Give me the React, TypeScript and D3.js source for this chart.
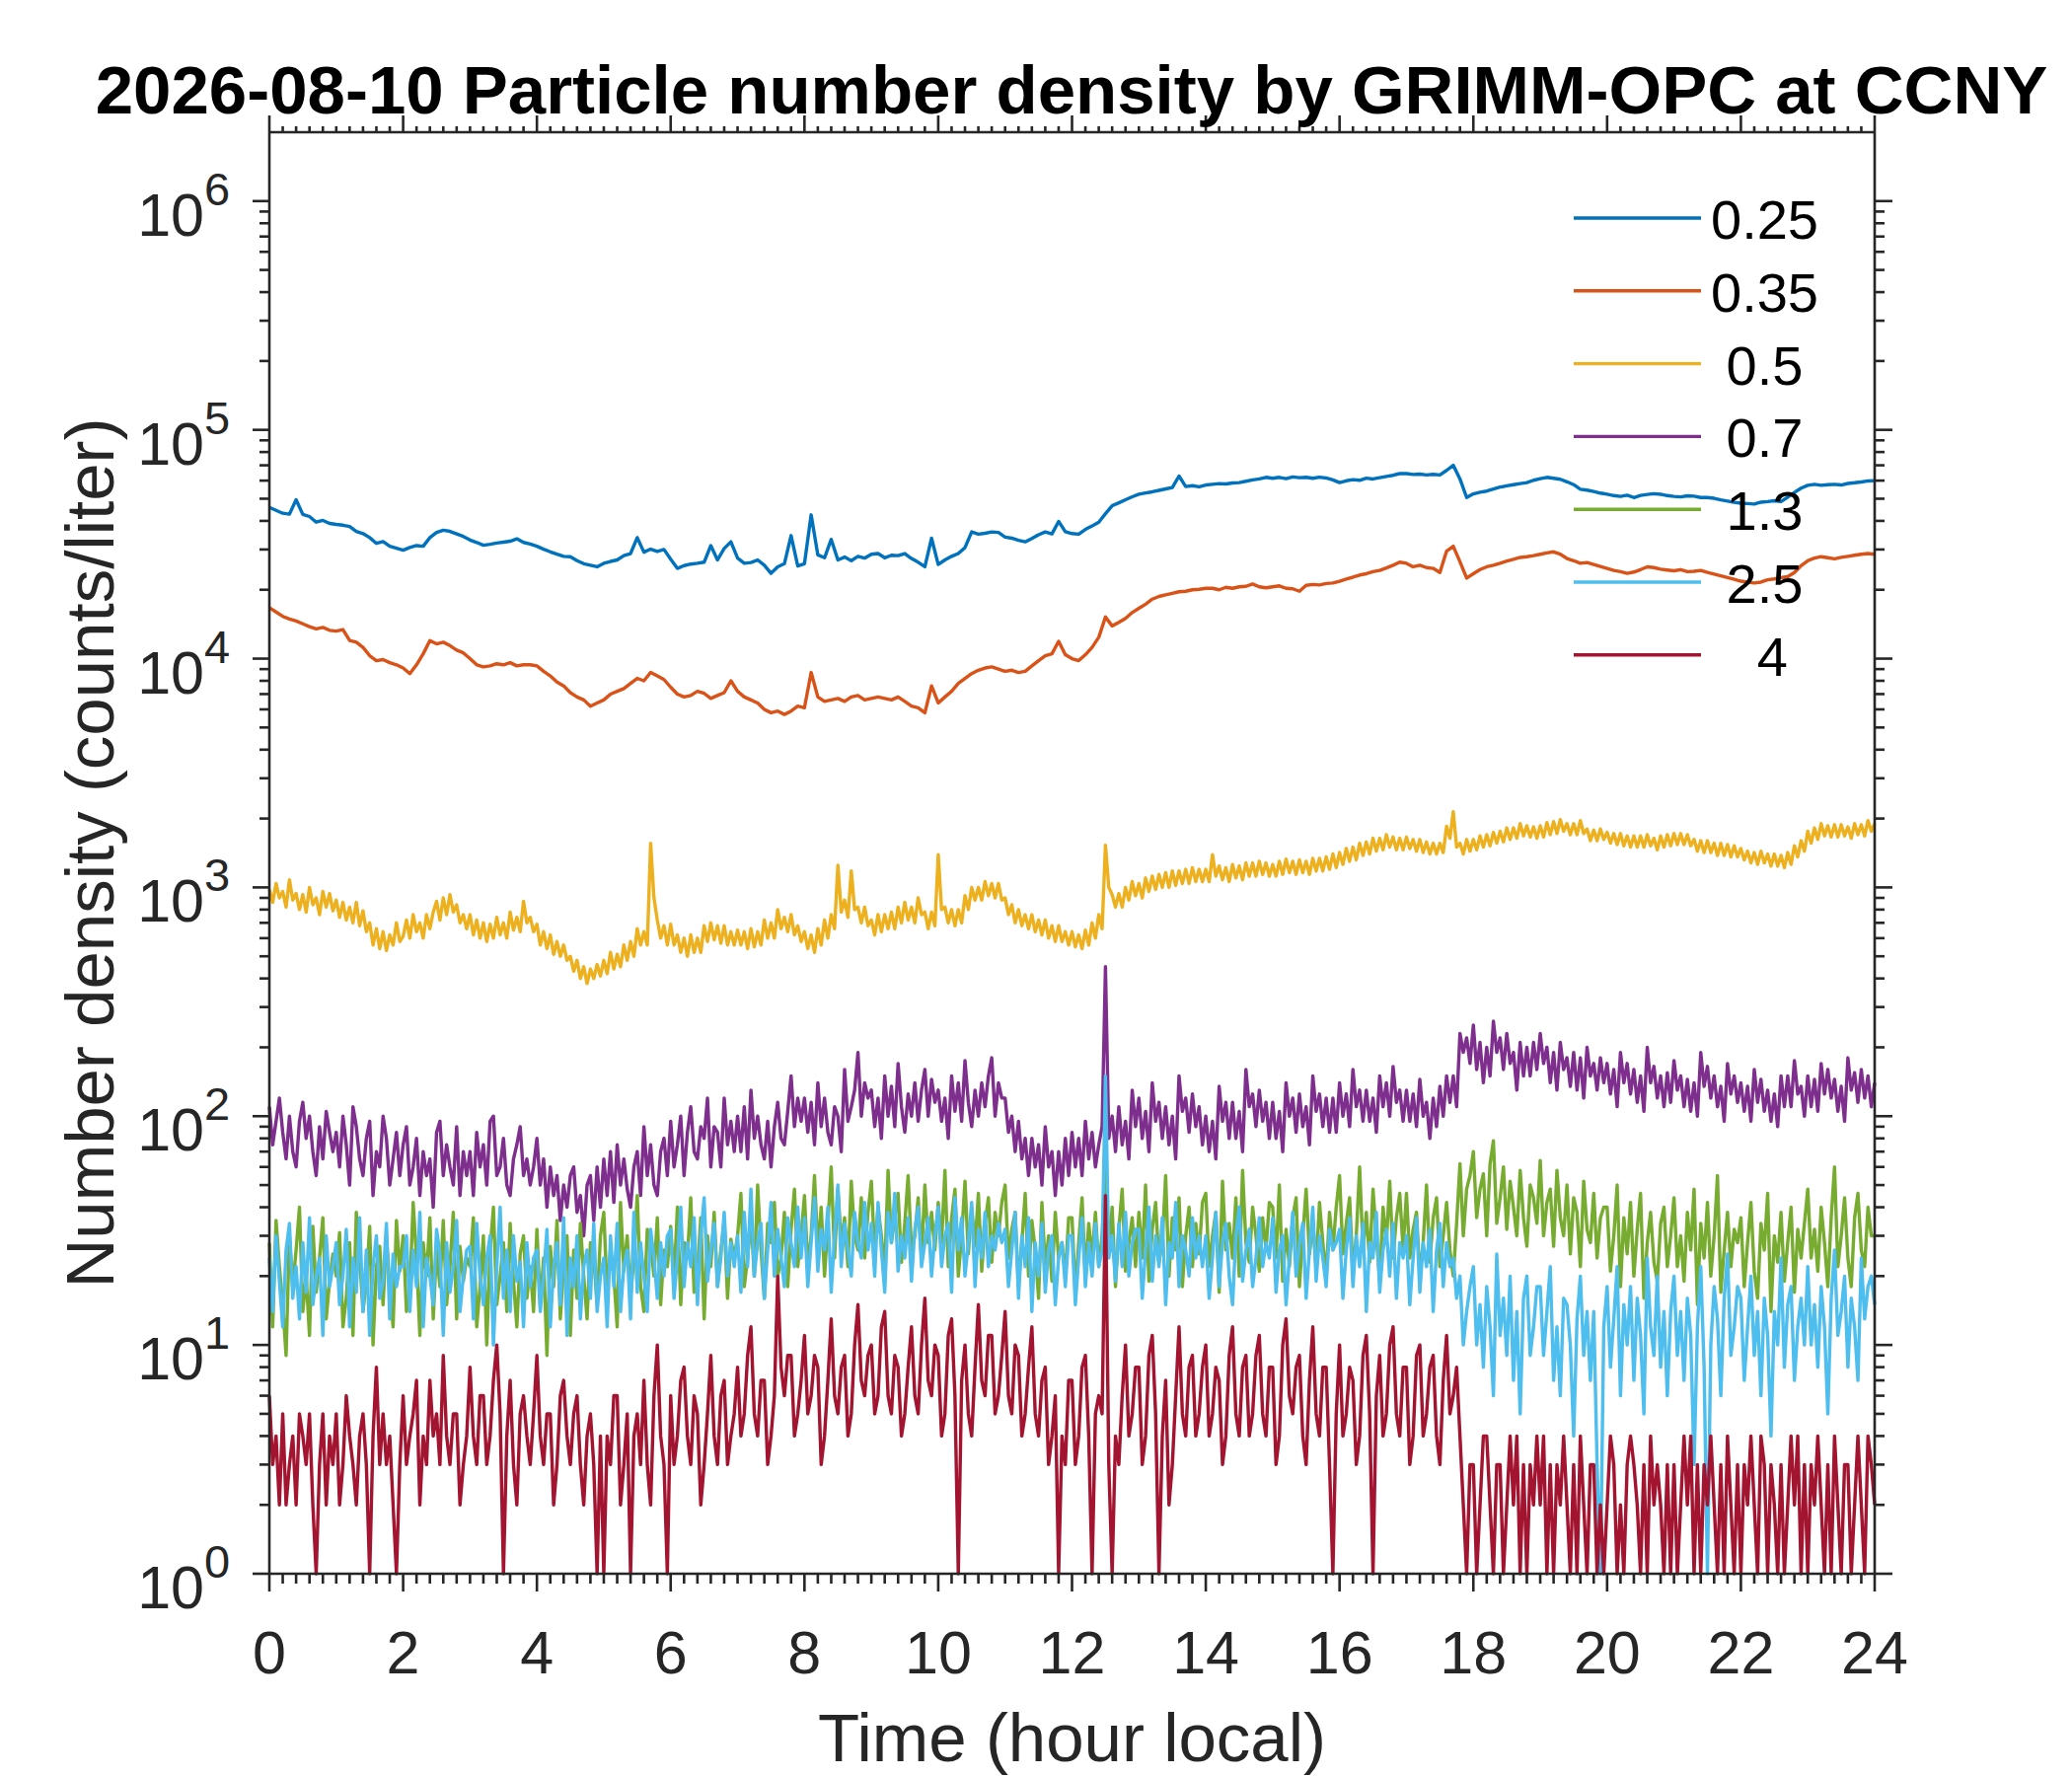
import React from 'react';
import * as d3 from 'd3';

// ---------- data ----------
const TITLE = '2026-08-10 Particle number density by GRIMM-OPC at CCNY';
const X_LABEL = 'Time (hour local)';
const Y_LABEL = 'Number density (counts/liter)';
const X_TICKS = [0, 2, 4, 6, 8, 10, 12, 14, 16, 18, 20, 22, 24];
const Y_TICK_EXPONENTS = [0, 1, 2, 3, 4, 5, 6];
const SIZE_LABELS = ['0.25', '0.35', ' 0.5', ' 0.7', ' 1.3', ' 2.5', '   4'];
const COLORS = ['#0072BD', '#D95319', '#EDB120', '#7E2F8E', '#77AC30', '#4DBEEE', '#A2142F'];
const STEP_SMOOTH_H = 0.1; // sampling of the 0.25 / 0.35 arrays (hours)
const STEP_NOISY_H = 0.05; // sampling of the other arrays (hours)

const N_025 = [
  45800, 44500, 43200, 42800, 49500, 42700, 41800, 39500, 40200, 39000,
  38600, 38300, 37800, 36000, 35200, 33800, 31900, 32500, 31000, 30400,
  29800, 30600, 31200, 31000, 33800, 35600, 36400, 36000, 35100, 34200,
  33000, 32200, 31300, 31600, 32000, 32300, 32600, 33400, 32200, 31700,
  31000, 30100, 29300, 28600, 28000, 27900, 26800, 26000, 25600, 25200,
  26100, 26600, 27000, 28200, 28800, 33800, 29200, 30100, 29400, 30000,
  27200, 24800, 25500, 25900, 26100, 26400, 31200, 27000, 30300, 32400,
  27500, 26100, 26300, 27000, 25600, 23600, 25200, 26000, 34500, 25400,
  26000, 42500, 28400, 27600, 33200, 27000, 27800, 26800, 28000, 27500,
  28600, 28800, 27600, 28300, 28200, 28800, 27400, 26400, 25200, 33600,
  25800, 27000, 28000, 28800, 30600, 35800, 35000, 35300, 35800, 35600,
  34000, 33600, 32900, 32400, 33500, 34800, 35800, 35100, 39800, 35900,
  35200, 35000, 36700, 38000, 39500, 43000, 46600, 48000, 49500, 51000,
  52300, 53000, 53600, 54400, 55200, 56000, 62800, 56500, 57000, 56400,
  57400, 57800, 58200, 58000, 58600, 58800, 59600, 60400, 61000, 62000,
  61400, 62000, 61200, 62300, 61800, 62000, 61400, 62100, 61600, 60400,
  58800, 59900, 60600, 60200, 61500, 61000, 61800, 62600, 63300, 64400,
  64400, 63800, 64100, 63500, 63900, 63500, 66500, 70000, 61000, 50600,
  52500, 53400, 54000, 55100, 56200, 56900, 57600, 58200, 58800, 60200,
  61200, 62000, 61400, 60800, 59300, 57600, 55000, 54500, 53800, 52900,
  52300, 51600, 51200, 51800, 50600, 51700, 52200, 52600, 52300, 51600,
  51200, 50900, 51500, 51300, 50600, 50600, 50200, 49400, 48800, 48200,
  47800, 47600, 47400, 48300, 48600, 49000, 48600, 50800, 53200, 55600,
  57200, 57800, 57200, 57600, 57800, 57400, 58300, 58700, 59200, 59800,
  60000,
];

const N_035 = [
  16700, 16000, 15300, 14900, 14600, 14200, 13800, 13500, 13700, 13300,
  13200, 13400, 12000, 11800, 11200, 10300, 9800, 9900, 9600, 9400,
  9100, 8600, 9400, 10500, 12000, 11600, 11800, 11400, 10900, 10600,
  10000, 9400, 9200, 9300, 9500, 9400, 9600, 9300, 9400, 9400,
  9300, 8800, 8400, 7900, 7600, 7100, 6800, 6600, 6200, 6400,
  6600, 7000, 7200, 7400, 7800, 8200, 8000, 8700, 8400, 8100,
  7500, 7000, 6800, 6900, 7200, 7050, 6700, 6900, 7100, 8000,
  7200, 6800, 6600, 6400, 6000, 5800, 5900, 5700, 5900, 6200,
  6100, 8700, 6800, 6500, 6600, 6700, 6500, 6800, 6900, 6600,
  6700, 6800, 6700, 6600, 6800, 6500, 6200, 6100, 5800, 7600,
  6400, 6800, 7200, 7800, 8200, 8600, 8900, 9100, 9200, 9000,
  8800, 8900, 8700, 8800, 9300, 9800, 10300, 10500, 11900, 10400,
  10000, 9800, 10400, 11200, 12400, 15200, 13900, 14400, 15000, 15900,
  16600, 17300, 18200, 18700, 19000, 19300, 19600, 19700, 20000, 20100,
  20300, 20300, 20000, 20500, 20300, 20600, 20700, 21200, 20600, 20400,
  20600, 20800, 20300, 20200, 19700, 20900, 21100, 21000, 21300, 21400,
  21800, 22300, 22700, 23200, 23500, 24000, 24300, 24900, 25600, 26400,
  26100, 25200, 25600, 25000, 24800, 23800, 29500, 31000, 26500, 22500,
  23500, 24500, 25200, 25600, 26100, 26700, 27200, 27700, 27900, 28200,
  28600, 29000, 29300, 28600, 27400, 26800, 26100, 26300, 25800, 25300,
  24800, 24300, 24000, 23600, 23900, 24500, 25200, 25000, 24600, 24400,
  24200, 24500, 24000, 24100, 24300, 23800, 23400, 23000, 22600, 22200,
  21800, 21600, 21400, 21600, 22100, 22300, 22600, 22800, 23800, 25500,
  26800, 27500, 27900, 27600, 27300, 27700, 28000, 28300, 28600, 28800,
  28600,
];

const N_05 = [
  980, 860, 1040, 900, 960, 820, 1080, 880, 940, 800, 930, 780, 1000, 840, 900, 760, 960, 820, 940, 790,
  880, 740, 860, 720, 820, 700, 860, 680, 790, 640, 700, 560, 660, 540, 640, 530, 620, 560, 700, 580,
  610, 720, 600, 760, 640, 700, 600, 760, 660, 780, 870, 720, 900, 760, 930, 780, 840, 700, 760, 660,
  760, 620, 720, 600, 700, 580, 690, 600, 740, 620, 700, 600, 780, 650, 740, 640, 870, 700, 740, 640,
  690, 560, 640, 540, 620, 510, 580, 500, 560, 480, 500, 430, 480, 400, 450, 380, 440, 400, 460, 410,
  480, 420, 520, 440, 510, 450, 560, 480, 580, 500, 660, 560, 640, 560, 1560, 900, 720, 600, 680, 560,
  690, 560, 620, 520, 600, 500, 620, 520, 600, 520, 680, 580, 700, 590, 680, 570, 680, 560, 640, 560,
  650, 560, 640, 540, 660, 550, 640, 560, 720, 600, 700, 600, 800, 660, 740, 640, 760, 620, 680, 580,
  640, 540, 620, 520, 660, 560, 720, 600, 760, 660, 1250, 780, 880, 740, 1180, 800, 820, 700, 820, 680,
  720, 620, 760, 640, 760, 660, 780, 660, 820, 700, 860, 720, 820, 700, 900, 760, 780, 660, 780, 680,
  1390, 800, 820, 700, 800, 680, 800, 700, 920, 800, 1000, 880, 1000, 880, 1060, 920, 1040, 900, 1040, 880,
  900, 760, 840, 700, 800, 680, 760, 660, 760, 640, 720, 620, 720, 600, 680, 580, 680, 580, 640, 560,
  640, 550, 620, 540, 650, 560, 700, 600, 760, 660, 1530, 1000, 930, 820, 940, 820, 1000, 880, 1060, 920,
  1040, 900, 1100, 960, 1120, 980, 1140, 1000, 1160, 1000, 1180, 1020, 1180, 1040, 1200, 1040, 1220, 1060, 1200, 1060,
  1200, 1060, 1390, 1120, 1240, 1080, 1220, 1060, 1260, 1100, 1240, 1080, 1280, 1120, 1280, 1120, 1300, 1140, 1280, 1120,
  1260, 1120, 1300, 1140, 1330, 1160, 1300, 1140, 1320, 1160, 1300, 1140, 1340, 1180, 1340, 1180, 1360, 1200, 1400, 1220,
  1420, 1260, 1480, 1300, 1500, 1320, 1560, 1380, 1580, 1400, 1640, 1440, 1640, 1460, 1700, 1500, 1660, 1460, 1640, 1460,
  1660, 1480, 1620, 1440, 1620, 1420, 1580, 1400, 1560, 1400, 1560, 1420, 1850, 1640, 2140, 1500, 1560, 1400, 1620, 1440,
  1620, 1460, 1680, 1500, 1700, 1520, 1740, 1560, 1760, 1580, 1820, 1620, 1820, 1640, 1900, 1680, 1860, 1660, 1840, 1640,
  1860, 1660, 1920, 1700, 1940, 1720, 1980, 1760, 1900, 1700, 1900, 1700, 1960, 1720, 1800, 1600, 1780, 1600, 1800, 1620,
  1740, 1560, 1720, 1540, 1720, 1520, 1680, 1500, 1680, 1500, 1680, 1500, 1700, 1520, 1640, 1460, 1680, 1500, 1700, 1520,
  1720, 1540, 1720, 1540, 1700, 1520, 1620, 1440, 1600, 1420, 1600, 1420, 1560, 1380, 1560, 1380, 1540, 1360, 1520, 1360,
  1480, 1320, 1440, 1280, 1420, 1260, 1440, 1280, 1400, 1240, 1400, 1240, 1380, 1220, 1420, 1260, 1520, 1360, 1600, 1440,
  1760, 1560, 1820, 1620, 1900, 1680, 1860, 1660, 1880, 1660, 1880, 1680, 1840, 1640, 1900, 1700, 1880, 1680, 1960, 1760,
  1900,
];

const N_07 = [
  110, 75, 95, 120, 85, 65, 100, 70, 60, 95, 115, 80, 100, 70, 55, 90, 65, 105, 85, 70,
  85, 60, 100, 75, 50, 110, 90, 65, 55, 80, 95, 45, 70, 60, 100, 80, 50, 65, 85, 55,
  75, 90, 50, 60, 80, 45, 70, 55, 65, 40, 85, 95, 55, 75, 60, 50, 90, 45, 70, 55,
  70, 45, 85, 60, 75, 50, 95, 100, 55, 60, 80, 50, 45, 65, 75, 90, 55, 65, 50, 60,
  80, 50, 65, 40, 60, 45, 55, 35, 50, 40, 55, 60, 38, 45, 30, 50, 55, 35, 60, 40,
  65, 45, 70, 42, 75, 50, 65, 48, 40, 60, 70, 45, 90, 55, 75, 50, 45, 70, 80, 55,
  95, 60, 75, 100, 55, 85, 110, 70, 65, 90, 80, 120, 60, 90, 85, 60, 120, 75, 95, 70,
  100, 70, 110, 65, 130, 80, 100, 75, 65, 95, 60, 90, 115, 80, 75, 105, 150, 90, 120, 95,
  120, 85, 115, 75, 140, 90, 120, 85, 75, 110, 100, 70, 160, 95, 110, 130, 190, 100, 140, 120,
  130, 90, 120, 80, 150, 100, 135, 90, 170, 110, 85, 125, 100, 140, 95, 130, 160, 100, 145, 115,
  130, 95, 120, 80, 150, 105, 140, 95, 175, 115, 90, 130, 100, 140, 110, 150, 180, 100, 140, 120,
  120, 85, 100, 70, 95, 65, 80, 55, 80, 60, 75, 50, 90, 60, 70, 45, 70, 50, 80, 55,
  85, 60, 80, 55, 95, 65, 85, 60, 75, 90, 450, 80, 100, 70, 110, 75, 95, 65, 130, 90,
  120, 80, 105, 70, 140, 95, 115, 80, 110, 75, 100, 65, 150, 105, 120, 85, 125, 90, 110, 75,
  100, 70, 95, 65, 135, 95, 115, 80, 115, 80, 105, 70, 160, 110, 125, 90, 130, 95, 115, 80,
  115, 80, 105, 70, 140, 100, 120, 85, 125, 90, 110, 75, 150, 105, 125, 90, 120, 85, 120, 85,
  140, 100, 125, 90, 160, 110, 130, 95, 130, 95, 120, 85, 150, 110, 140, 100, 165, 115, 130, 95,
  130, 95, 125, 90, 145, 100, 115, 80, 120, 90, 135, 100, 150, 115, 150, 110, 230, 190, 220, 170,
  250, 160, 210, 140, 200, 150, 260, 190, 220, 160, 230, 170, 190, 130, 210, 150, 200, 150, 210, 160,
  230, 170, 200, 140, 190, 130, 210, 160, 180, 135, 190, 130, 180, 120, 200, 150, 170, 130, 180, 140,
  170, 125, 160, 110, 190, 140, 170, 125, 160, 115, 150, 105, 200, 140, 165, 120, 150, 110, 155, 115,
  175, 130, 150, 110, 145, 105, 140, 100, 190, 135, 165, 120, 150, 110, 135, 95, 170, 125, 150, 115,
  140, 105, 135, 95, 160, 115, 145, 105, 130, 95, 125, 90, 150, 110, 150, 110, 175, 125, 135, 100,
  150, 110, 145, 105, 170, 125, 160, 120, 145, 105, 135, 95, 180, 130, 155, 115, 160, 120, 150, 110,
  140,
];

const N_13 = [
  28, 12, 35, 22, 15, 9, 30, 18, 26, 40, 14, 20, 11, 33, 17, 24, 36, 13, 19, 25,
  20, 31, 12, 16, 28, 11, 38, 24, 14, 19, 33, 10, 22, 27, 15, 30, 18, 12, 35, 21,
  30, 14, 17, 42, 24, 11, 28, 20, 36, 13, 26, 18, 35, 15, 22, 38, 13, 27, 19, 24,
  22, 36, 12, 18, 30, 10, 26, 40, 15, 20, 28, 14, 34, 19, 12, 25, 30, 16, 22, 14,
  32, 15, 24, 9, 27, 18, 35, 13, 22, 30, 11, 26, 16, 34, 20, 13, 28, 24, 15, 30,
  38, 17, 26, 20, 12, 42, 21, 30, 16, 24, 45, 18, 14, 32, 28, 20, 36, 15, 26, 22,
  33, 19, 40, 15, 28, 24, 44, 17, 21, 36, 13, 30, 22, 38, 18, 26, 35, 16, 29, 24,
  30, 46, 18, 24, 36, 20, 50, 26, 16, 34, 28, 42, 20, 24, 38, 18, 32, 48, 22, 30,
  45, 22, 30, 55, 26, 40, 20, 34, 60, 24, 48, 28, 36, 22, 52, 30, 26, 44, 24, 38,
  52, 25, 40, 30, 21, 58, 28, 36, 46, 23, 34, 55, 26, 30, 44, 24, 50, 28, 38, 26,
  42, 28, 58, 22, 36, 48, 20, 30, 52, 25, 40, 27, 46, 21, 34, 44, 23, 38, 30, 42,
  50, 24, 32, 38, 18, 28, 46, 20, 35, 26, 16, 42, 22, 30, 19, 38, 24, 28, 20, 36,
  36, 17, 28, 44, 20, 34, 24, 38, 22, 30, 62, 26, 40, 18, 32, 48, 21, 28, 36, 22,
  38, 24, 50, 19, 32, 42, 23, 28, 55, 20, 36, 26, 44, 18, 30, 40, 22, 34, 25, 42,
  46, 22, 30, 38, 17, 52, 26, 34, 24, 44, 20, 58, 28, 23, 40, 30, 21, 36, 26, 42,
  40, 24, 50, 19, 32, 22, 36, 44, 18, 30, 48, 25, 34, 22, 42, 28, 20, 38, 26, 40,
  55, 25, 34, 44, 21, 30, 60, 26, 38, 23, 48, 30, 19, 40, 28, 52, 24, 36, 46, 26,
  46, 24, 32, 38, 20, 28, 50, 23, 36, 44, 22, 30, 42, 26, 20, 34, 62, 30, 48, 55,
  70, 36, 48, 56, 30, 62, 78, 34, 44, 60, 32, 52, 40, 30, 58, 36, 27, 50, 44, 34,
  64, 30, 42, 48, 27, 58, 36, 30, 50, 25, 44, 38, 22, 52, 32, 28, 46, 24, 36, 40,
  40, 21, 30, 50, 18, 36, 25, 42, 20, 32, 46, 16, 28, 38, 23, 19, 34, 40, 22, 30,
  44, 22, 30, 19, 38, 26, 48, 15, 34, 24, 42, 20, 30, 55, 17, 26, 38, 22, 32, 28,
  36, 18, 28, 42, 21, 16, 34, 26, 46, 14, 30, 23, 38, 19, 28, 40, 17, 32, 24, 34,
  48, 24, 32, 21, 40, 28, 18, 36, 60, 22, 30, 44, 24, 18, 36, 46, 26, 22, 40, 30,
  30,
];

const N_25 = [
  24, 14, 30, 19, 12, 26, 34, 16, 22, 13, 28, 17, 36, 15, 20, 24, 11, 30, 18, 22,
  28, 15, 20, 32, 12, 24, 17, 36, 14, 26, 11, 22, 30, 16, 19, 34, 13, 25, 18, 22,
  22, 30, 14, 26, 18, 38, 12, 24, 20, 15, 32, 25, 11, 28, 17, 22, 35, 14, 20, 26,
  27, 13, 34, 20, 15, 24, 30, 10, 22, 40, 16, 26, 14, 30, 19, 23, 12, 28, 18, 24,
  26, 14, 20, 32, 12, 22, 28, 15, 36, 11, 24, 18, 30, 13, 22, 26, 16, 34, 14, 20,
  24, 12, 30, 18, 34, 14, 22, 26, 13, 38, 17, 28, 20, 14, 32, 24, 16, 28, 20, 30,
  32, 16, 24, 40, 18, 28, 22, 36, 15, 30, 44, 19, 26, 34, 18, 24, 38, 20, 28, 22,
  30, 17, 38, 22, 48, 20, 28, 34, 16, 26, 42, 20, 32, 24, 18, 36, 28, 22, 40, 24,
  36, 18, 28, 44, 21, 32, 26, 40, 17, 30, 50, 22, 34, 26, 20, 38, 28, 24, 42, 26,
  34, 20, 42, 26, 17, 38, 28, 46, 21, 30, 24, 36, 19, 32, 40, 22, 28, 36, 20, 30,
  40, 22, 30, 34, 17, 44, 26, 36, 20, 28, 42, 18, 32, 24, 38, 22, 30, 26, 34, 28,
  32, 18, 26, 38, 16, 30, 22, 36, 14, 28, 20, 34, 17, 26, 30, 15, 24, 28, 18, 30,
  30, 15, 24, 36, 18, 28, 20, 34, 22, 26, 150, 24, 30, 19, 34, 22, 38, 20, 28, 32,
  32, 16, 26, 40, 19, 30, 22, 36, 15, 28, 24, 42, 18, 30, 26, 20, 36, 24, 30, 22,
  30, 16, 24, 38, 18, 28, 34, 20, 15, 30, 40, 19, 26, 32, 18, 24, 36, 22, 28, 24,
  36, 17, 26, 30, 15, 24, 38, 20, 28, 34, 16, 26, 40, 19, 30, 24, 18, 32, 26, 28,
  32, 16, 26, 36, 18, 30, 22, 34, 14, 28, 24, 38, 17, 26, 32, 20, 34, 16, 28, 24,
  30, 15, 24, 36, 17, 28, 22, 32, 14, 26, 34, 18, 28, 22, 24, 16, 20, 10, 14, 18,
  22, 10, 15, 8, 18, 12, 6, 25, 11, 16, 9, 20, 7, 14, 5, 16, 20, 9, 12, 18,
  18, 9, 14, 22, 7, 12, 6, 16, 15, 10, 4, 13, 20, 9, 14, 7, 14, 3, 1, 12,
  18, 8, 13, 22, 6, 15, 10, 18, 7, 16, 11, 5, 24, 12, 9, 20, 8, 14, 6, 14,
  20, 9, 14, 7, 16, 11, 3, 12, 22, 8, 1, 10, 18, 13, 6, 16, 25, 9, 12, 18,
  16, 7, 12, 20, 9, 14, 6, 16, 11, 4, 14, 10, 24, 8, 15, 18, 7, 12, 16, 10,
  22, 10, 15, 8, 18, 12, 5, 16, 26, 11, 14, 20, 8, 16, 12, 7, 24, 13, 18, 20,
  15,
];

const N_4 = [
  6, 3, 4, 2, 5, 2, 3, 4, 2, 5, 4, 3, 5, 2, 1, 3, 5, 2, 4, 3,
  5, 2, 3, 6, 4, 3, 2, 4, 5, 3, 1, 4, 8, 3, 5, 3, 4, 2, 1, 3,
  6, 3, 4, 5, 7, 2, 4, 3, 7, 4, 5, 3, 9, 4, 3, 5, 5, 2, 3, 4,
  8, 4, 3, 6, 6, 3, 4, 7, 10, 5, 1, 4, 7, 3, 2, 5, 6, 4, 3, 5,
  9, 4, 3, 5, 5, 2, 3, 6, 7, 4, 3, 5, 6, 3, 2, 4, 5, 3, 1, 4,
  1, 4, 3, 6, 6, 2, 3, 5, 1, 4, 5, 3, 7, 3, 2, 6, 10, 4, 3, 1,
  6, 3, 4, 7, 8, 4, 3, 6, 5, 2, 3, 5, 9, 4, 3, 6, 7, 3, 4, 5,
  8, 4, 5, 9, 12, 5, 4, 7, 7, 3, 4, 6, 20, 8, 6, 9, 9, 4, 5, 7,
  11, 5, 6, 9, 8, 3, 4, 7, 13, 6, 5, 8, 9, 4, 5, 10, 15, 7, 6, 9,
  10, 5, 6, 12, 14, 6, 5, 9, 8, 4, 5, 8, 12, 6, 5, 10, 16, 7, 6, 10,
  9, 4, 5, 11, 13, 6, 1, 7, 10, 5, 4, 8, 15, 7, 6, 11, 11, 5, 6, 9,
  14, 6, 5, 10, 9, 4, 5, 8, 12, 5, 4, 7, 8, 3, 4, 6, 1, 4, 3, 7,
  7, 3, 4, 8, 9, 4, 1, 5, 6, 5, 45, 3, 1, 4, 3, 6, 10, 4, 5, 8,
  8, 3, 4, 9, 11, 5, 1, 4, 7, 2, 3, 6, 12, 5, 4, 8, 9, 4, 5, 8,
  10, 4, 5, 8, 7, 3, 4, 9, 12, 5, 4, 8, 9, 4, 5, 9, 11, 5, 4, 8,
  8, 3, 4, 10, 13, 6, 5, 8, 9, 4, 3, 7, 12, 5, 4, 8, 8, 3, 1, 5,
  10, 4, 5, 8, 7, 3, 4, 9, 11, 5, 1, 6, 9, 4, 5, 10, 12, 5, 4, 8,
  8, 3, 4, 9, 10, 4, 5, 8, 9, 4, 3, 7, 11, 5, 6, 8, 4, 2, 1, 3,
  3, 1, 2, 4, 4, 2, 1, 3, 3, 1, 2, 4, 2, 4, 1, 3, 1, 3, 2, 4,
  2, 4, 1, 3, 1, 3, 2, 4, 2, 1, 3, 1, 4, 2, 1, 3, 3, 1, 2, 1,
  2, 4, 3, 1, 2, 1, 3, 4, 3, 2, 1, 3, 1, 4, 2, 3, 2, 1, 3, 1,
  3, 1, 2, 4, 2, 4, 1, 3, 1, 3, 2, 4, 2, 1, 3, 1, 4, 2, 1, 3,
  1, 3, 2, 4, 2, 1, 4, 3, 1, 3, 2, 1, 3, 1, 2, 4, 2, 4, 1, 3,
  1, 3, 2, 4, 2, 1, 3, 1, 4, 2, 1, 3, 3, 1, 2, 4, 2, 1, 4, 3,
  2,
];

const SERIES = [
  { values: N_025, step: STEP_SMOOTH_H },
  { values: N_035, step: STEP_SMOOTH_H },
  { values: N_05, step: STEP_NOISY_H },
  { values: N_07, step: STEP_NOISY_H },
  { values: N_13, step: STEP_NOISY_H },
  { values: N_25, step: STEP_NOISY_H },
  { values: N_4, step: STEP_NOISY_H },
];

// ---------- layout ----------
const W = 2100;
const H = 1800;
const PLOT = { left: 273, right: 1900, top: 134, bottom: 1595 };
const AXIS_COLOR = '#262626';
const FONT = '"Liberation Sans", Arial, Helvetica, sans-serif';
const LINE_W = 3.4;

export default function App() {
  const x = d3.scaleLinear().domain([0, 24]).range([PLOT.left, PLOT.right]);
  const y = d3.scaleLog().domain([1, 2e6]).range([PLOT.bottom, PLOT.top]);

  const makeLine = (step: number) =>
    d3
      .line<number>()
      .defined((v) => v > 0)
      .x((_, i) => x(i * step))
      .y((v) => y(v));

  const xMinor = d3.range(0, 121).filter((i) => i % 10 !== 0).map((i) => i * 0.2);
  const yMinor: number[] = [];
  Y_TICK_EXPONENTS.forEach((e) => {
    for (let k = 2; k <= 9; k++) {
      const v = k * Math.pow(10, e);
      if (v < 2e6) yMinor.push(v);
    }
  });
  const yMajor = Y_TICK_EXPONENTS.map((e) => Math.pow(10, e));

  const legendRow0 = 221;
  const legendStep = 73.8;

  return (
    <svg
      width={W}
      height={H}
      viewBox={`0 0 ${W} ${H}`}
      style={{ position: 'absolute', left: 0, top: 0, background: '#fff' }}
      fontFamily={FONT}
    >
      <rect x={0} y={0} width={W} height={H} fill="#fff" />

      {/* data */}
      <g fill="none" strokeLinejoin="round" strokeLinecap="butt">
        {SERIES.map((s, i) => (
          <path key={i} d={makeLine(s.step)(s.values) || ''} stroke={COLORS[i]} strokeWidth={LINE_W} />
        ))}
      </g>

      {/* axes box */}
      <g stroke={AXIS_COLOR} strokeWidth={2.6} fill="none">
        <line x1={PLOT.left} x2={PLOT.right} y1={PLOT.bottom} y2={PLOT.bottom} />
        <line x1={PLOT.left} x2={PLOT.right} y1={PLOT.top} y2={PLOT.top} />
        <line x1={PLOT.left} x2={PLOT.left} y1={PLOT.top} y2={PLOT.bottom} />
        <line x1={PLOT.right} x2={PLOT.right} y1={PLOT.top} y2={PLOT.bottom} />

        {X_TICKS.map((t) => (
          <g key={'xt' + t}>
            <line x1={x(t)} x2={x(t)} y1={PLOT.bottom} y2={PLOT.bottom + 18} />
            <line x1={x(t)} x2={x(t)} y1={PLOT.top} y2={PLOT.top - 17} />
          </g>
        ))}
        {xMinor.map((t) => (
          <g key={'xm' + t}>
            <line x1={x(t)} x2={x(t)} y1={PLOT.bottom} y2={PLOT.bottom + 10} />
            <line x1={x(t)} x2={x(t)} y1={PLOT.top} y2={PLOT.top - 6} />
          </g>
        ))}

        {yMajor.map((v) => (
          <g key={'ym' + v}>
            <line x1={PLOT.left - 17} x2={PLOT.left} y1={y(v)} y2={y(v)} />
            <line x1={PLOT.right} x2={PLOT.right + 18} y1={y(v)} y2={y(v)} />
          </g>
        ))}
        {yMinor.map((v) => (
          <g key={'yn' + v}>
            <line x1={PLOT.left - 10} x2={PLOT.left} y1={y(v)} y2={y(v)} />
            <line x1={PLOT.right} x2={PLOT.right + 10} y1={y(v)} y2={y(v)} />
          </g>
        ))}
      </g>

      {/* x tick labels */}
      <g fill={AXIS_COLOR} fontSize={61} textAnchor="middle">
        {X_TICKS.map((t) => (
          <text key={'xl' + t} x={x(t)} y={1696}>
            {t}
          </text>
        ))}
      </g>

      {/* y tick labels 10^n */}
      <g fill={AXIS_COLOR}>
        {Y_TICK_EXPONENTS.map((e) => {
          const yy = y(Math.pow(10, e));
          return (
            <g key={'yl' + e}>
              <text x={207} y={yy + 35} fontSize={61} textAnchor="end">
                10
              </text>
              <text x={207} y={yy + 4} fontSize={47} textAnchor="start">
                {e}
              </text>
            </g>
          );
        })}
      </g>

      {/* axis labels */}
      <text x={(PLOT.left + PLOT.right) / 2} y={1785} fontSize={69} textAnchor="middle" fill={AXIS_COLOR}>
        {X_LABEL}
      </text>
      <text
        transform={`translate(115, ${(PLOT.top + PLOT.bottom) / 2}) rotate(-90)`}
        fontSize={69}
        textAnchor="middle"
        fill={AXIS_COLOR}
      >
        {Y_LABEL}
      </text>

      {/* title */}
      <text x={1086} y={115} fontSize={69} fontWeight="bold" textAnchor="middle" fill="#000">
        {TITLE}
      </text>

      {/* legend */}
      <g>
        {SIZE_LABELS.map((lab, i) => {
          const ly = legendRow0 + i * legendStep;
          return (
            <g key={'lg' + i}>
              <line x1={1595} x2={1724} y1={ly} y2={ly} stroke={COLORS[i]} strokeWidth={LINE_W} />
              <text x={1734} y={ly + 21} fontSize={56} fill="#000" style={{ whiteSpace: 'pre' }}>
                {lab}
              </text>
            </g>
          );
        })}
      </g>
    </svg>
  );
}
